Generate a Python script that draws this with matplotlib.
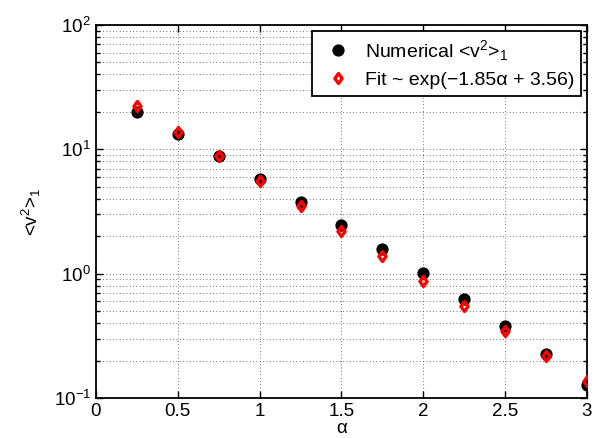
import matplotlib
matplotlib.use("Agg")
import matplotlib.pyplot as plt
from matplotlib.ticker import LogLocator, NullFormatter
from matplotlib.path import Path

plt.rcParams['font.family'] = ['Liberation Sans', 'DejaVu Sans']
plt.rcParams['mathtext.fontset'] = 'custom'
plt.rcParams['mathtext.rm'] = 'Liberation Sans'
plt.rcParams['mathtext.it'] = 'Liberation Sans'

alpha = [0.25, 0.5, 0.75, 1.0, 1.25, 1.5, 1.75, 2.0, 2.25, 2.5, 2.75, 3.0]
numerical = [20.0, 13.3, 8.8, 5.8, 3.75, 2.45, 1.58, 1.01, 0.63, 0.38, 0.225, 0.128]
fit = [22.1, 13.9, 8.78, 5.53, 3.48, 2.19, 1.38, 0.87, 0.547, 0.345, 0.217, 0.137]

diamond = Path([(0, 1), (0.72, 0), (0, -1), (-0.72, 0), (0, 1)],
               [Path.MOVETO, Path.LINETO, Path.LINETO, Path.LINETO, Path.CLOSEPOLY])

fig = plt.figure(figsize=(5.98, 4.38), dpi=100)
ax = fig.add_axes([0.1605, 0.0913, 0.8211, 0.8517])

ax.plot(alpha, numerical, linestyle='none', marker='o', markersize=7.8,
        color='black', label=r'Numerical <v$^2$>$_1$', zorder=3)
ax.plot(alpha, fit, linestyle='none', marker=diamond, markersize=7.2,
        markerfacecolor='none', markeredgecolor='red', markeredgewidth=2.4,
        label='Fit ~ exp(\u22121.85\u03b1 + 3.56)', zorder=4)

ax.set_yscale('log')
ax.set_xlim(0, 3)
ax.set_ylim(0.1, 100)
ax.set_xticks([0, 0.5, 1, 1.5, 2, 2.5, 3])
ax.set_xticklabels(['0', '0.5', '1', '1.5', '2', '2.5', '3'])
ax.yaxis.set_major_locator(LogLocator(base=10, numticks=10))
ax.yaxis.set_minor_locator(LogLocator(base=10, subs=range(2, 10), numticks=20))
ax.yaxis.set_minor_formatter(NullFormatter())

ax.grid(True, which='major', axis='both', linestyle=(0, (1, 3)), color='#444444', linewidth=0.6)
ax.grid(True, which='minor', axis='y', linestyle=(0, (1, 3)), color='#444444', linewidth=0.6)

ax.tick_params(which='both', direction='in', top=True, right=True, labelsize=13.5)
ax.tick_params(which='major', length=5, width=1)
ax.tick_params(which='minor', length=3, width=1)
for s in ax.spines.values():
    s.set_linewidth(1.3)

ax.set_xlabel('\u03b1', fontsize=13.5, labelpad=0)
ax.set_ylabel(r'<v$^2$>$_1$', fontsize=13.5, labelpad=8)

leg = ax.legend(loc='upper right', fontsize=14, frameon=True, fancybox=False,
                edgecolor='black', framealpha=1, borderaxespad=0.3,
                handletextpad=0.4, borderpad=0.35, labelspacing=0.45,
                handlelength=2.0)
leg.get_frame().set_linewidth(1.3)

fig.savefig('out.png', dpi=100)
